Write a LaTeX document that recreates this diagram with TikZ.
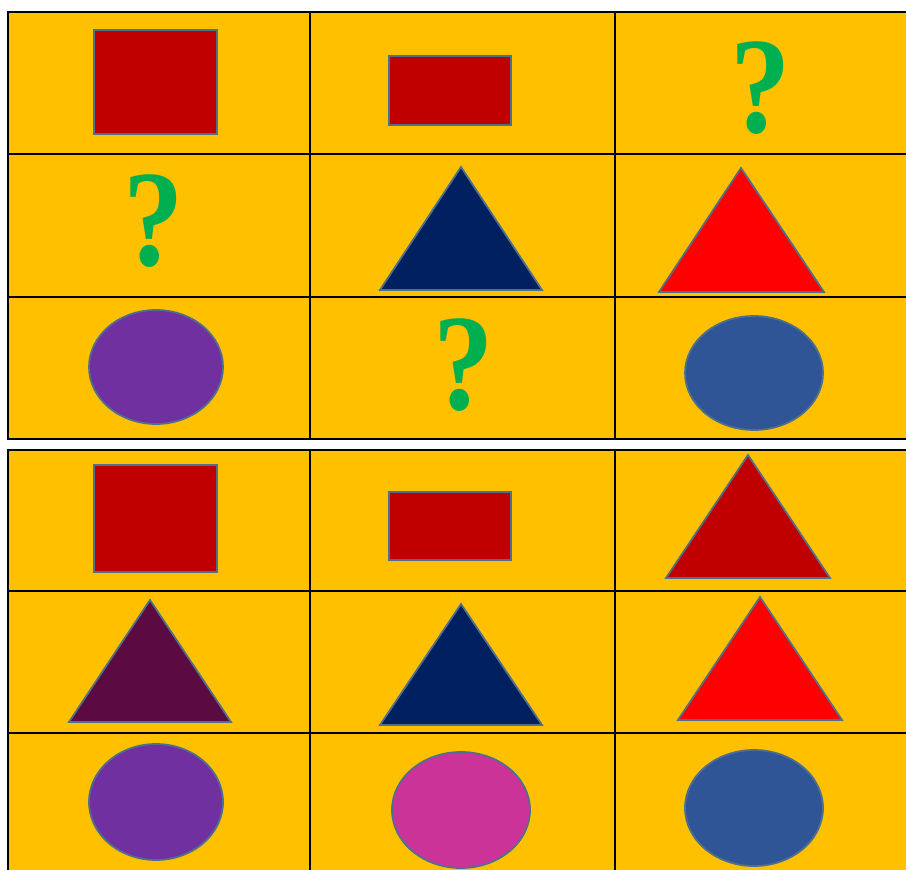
\documentclass[tikz,border=0pt]{standalone}
\usepackage{fontspec}
\setmainfont{Liberation Serif}
\usepackage{xcolor}
\usetikzlibrary{positioning}

\definecolor{cellbg}{HTML}{FFC000}
\definecolor{darkred}{HTML}{C00000}
\definecolor{navyblue}{HTML}{002060}
\definecolor{brightred}{HTML}{FF0000}
\definecolor{purplefill}{HTML}{7030A0}
\definecolor{steelblue}{HTML}{2F5597}
\definecolor{plumfill}{HTML}{5C0A42}
\definecolor{pinkfill}{HTML}{CC3399}
\definecolor{qgreen}{HTML}{00B050}
\definecolor{outline}{HTML}{4F6F8F}

\begin{document}
\begin{tikzpicture}[
    x=0.01cm, y=-0.01cm,
    grid/.style={draw=black, line width=0.6pt},
    figure/.style={draw=outline, line width=0.5pt},
    quest/.style={text=qgreen, font=\fontsize{39}{40}\selectfont\bfseries, inner sep=0pt, xscale=0.88}
]
    \useasboundingbox (0,0) rectangle (906,870);

    % Upper grid
    \fill[cellbg] (8,12) rectangle (906,439);
    \draw[grid] (906,12) -- (8,12) -- (8,439) -- (906,439);
    \draw[grid] (8,154) -- (906,154);
    \draw[grid] (8,297) -- (906,297);
    \draw[grid] (310,12) -- (310,439);
    \draw[grid] (615,12) -- (615,439);

    % Lower grid
    \fill[cellbg] (8,450) rectangle (906,870);
    \draw[grid] (906,450) -- (8,450) -- (8,870);
    \draw[grid] (8,591) -- (906,591);
    \draw[grid] (8,733) -- (906,733);
    \draw[grid] (310,450) -- (310,870);
    \draw[grid] (615,450) -- (615,870);

    % Upper row 1
    \filldraw[figure, fill=darkred] (94,30) rectangle (217,134);
    \filldraw[figure, fill=darkred] (389,56) rectangle (511,125);
    \node (q1) [quest] at (761,88) {?};

    % Upper row 2
    \node (q2) [quest] at (154,221) {?};
    \filldraw[figure, fill=navyblue] (461,167) -- (542,290) -- (380,290) -- cycle;
    \filldraw[figure, fill=brightred] (741,168) -- (824,292) -- (659,292) -- cycle;

    % Upper row 3
    \filldraw[figure, fill=purplefill] (156,367) ellipse (67 and 57);
    \node (q3) [quest] at (464,365) {?};
    \filldraw[figure, fill=steelblue] (754,373) ellipse (69 and 57);

    % Lower row 1
    \filldraw[figure, fill=darkred] (94,465) rectangle (217,572);
    \filldraw[figure, fill=darkred] (389,492) rectangle (511,560);
    \filldraw[figure, fill=darkred] (748,455) -- (830,578) -- (666,578) -- cycle;

    % Lower row 2
    \filldraw[figure, fill=plumfill] (150,600) -- (231,722) -- (69,722) -- cycle;
    \filldraw[figure, fill=navyblue] (461,604) -- (542,725) -- (380,725) -- cycle;
    \filldraw[figure, fill=brightred] (760,597) -- (842,720) -- (678,720) -- cycle;

    % Lower row 3
    \filldraw[figure, fill=purplefill] (156,802) ellipse (67 and 58);
    \filldraw[figure, fill=pinkfill] (461,810) ellipse (69 and 58);
    \filldraw[figure, fill=steelblue] (754,808) ellipse (69 and 58);

\end{tikzpicture}
\end{document}
